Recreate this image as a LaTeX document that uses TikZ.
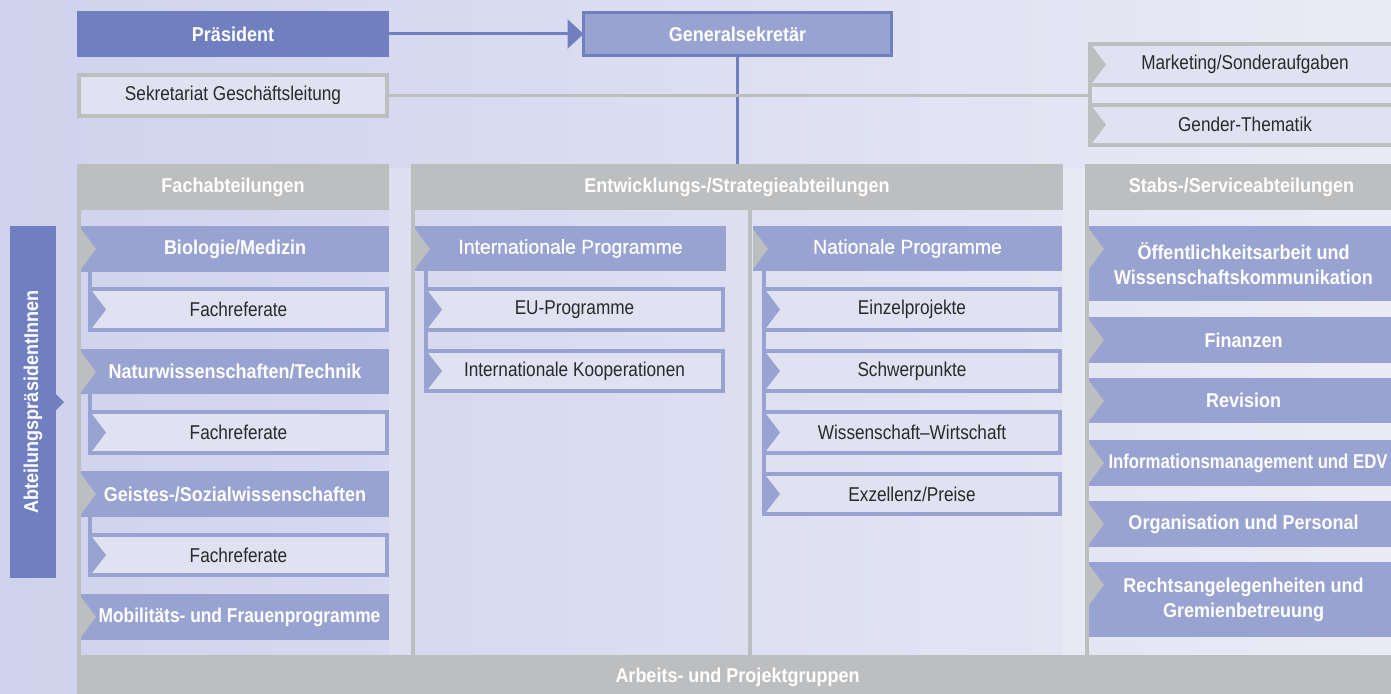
\documentclass[tikz,border=0pt]{standalone}
\usepackage{fontspec}
\usepackage{graphicx}
\setmainfont{Liberation Sans}[FakeStretch=0.86,BoldFeatures={FakeStretch=0.9}]
\newfontfamily\medf{Liberation Sans}[FakeStretch=0.97,FakeBold=0.6]
\usetikzlibrary{arrows.meta}
\definecolor{cA}{HTML}{6F7FC0}
\definecolor{cB}{HTML}{98A3D2}
\definecolor{cG}{HTML}{BDBEC0}
\definecolor{cL}{HTML}{E0E2F2}
\definecolor{cF}{HTML}{E4E6F4}
\definecolor{cT}{HTML}{2A2A2A}
\definecolor{bgL}{HTML}{CED2EC}
\definecolor{bgR}{HTML}{EAEBF6}
\newcommand\pbox[7]{\node[#1,minimum width={(#5)-(#3)},minimum height={(#6)-(#4)}] (#2) at ({((#3)+(#5))/2},{((#4)+(#6))/2}) {#7};}
\newcommand\gtri[2]{\fill[#2] ([yshift=-3pt]#1.north west) -- ([xshift=15pt,yshift=-23pt]#1.north west) -- ([yshift=-43pt]#1.north west) -- cycle;}
\newcommand\btri[2]{\fill[#2] ([xshift=2pt,yshift=-2pt]#1.north west) -- ([xshift=16pt]#1.west) -- ([xshift=2pt,yshift=2pt]#1.south west) -- cycle;}
\begin{document}
\begin{tikzpicture}[x=1pt,y=-1pt,
  every node/.style={outer sep=0pt,inner sep=0pt,align=center,font=\fontsize{20}{25}\selectfont},
  solA/.style={fill=cA,text=white,font=\fontsize{20}{25}\selectfont\bfseries},
  solB/.style={fill=cB,text=white,font=\fontsize{20}{25}\selectfont\bfseries},
  solM/.style={fill=cB,text=white,font=\fontsize{20}{25}\medf},
  gsbox/.style={fill=cB,draw=cA,line width=3pt,text=white,font=\fontsize{20}{25}\selectfont\bfseries},
  subbox/.style={fill=cL,draw=cB,line width=4pt,text=cT},
  graybox/.style={fill=cL,draw=cG,line width=4pt,text=cT},
  gframe/.style={fill=cF,draw=cG,line width=4pt},
  hdr/.style={fill=cG,text=white,font=\fontsize{20}{25}\selectfont\bfseries},
  aline/.style={draw=cA,line width=3pt},
  gline/.style={draw=cG,line width=3pt},
  bline/.style={draw=cB,line width=4pt},
  colline/.style={draw=cG,line width=4pt}]
\useasboundingbox (0,0) rectangle (1391,693);
\shade[left color=bgL,right color=bgR] (0,0) rectangle (1391,693);
% gap strips
\fill[white,opacity=.18] (389,168) rectangle (411,655);
\fill[white,opacity=.18] (1063,168) rectangle (1085,655);
% headers and bottom band
\pbox{hdr}{fach}{77}{164}{389}{210}{Fachabteilungen}
\pbox{hdr}{entw}{411}{164}{1063}{210}{Entwicklungs-/Strategieabteilungen}
\pbox{hdr}{stabs}{1085}{164}{1398}{210}{Stabs-/Serviceabteilungen}
\pbox{hdr}{arb}{77}{655}{1398}{700}{Arbeits- und Projektgruppen}
% column frames
\draw[colline] (79,210) -- (79,655);
\draw[colline] (413,210) -- (413,655);
\draw[colline] (750,210) -- (750,655);
\draw[colline] (1087,210) -- (1087,655);
% top
\pbox{solA}{pres}{77}{11}{389}{57}{Präsident}
\pbox{gsbox}{gs}{583.5}{12.5}{891.5}{55.5}{Generalsekretär}
\pbox{graybox}{sek}{79}{75}{387}{116}{Sekretariat Geschäftsleitung}
\pbox{gframe}{mg}{1090}{44}{1400}{145}{}
\pbox{graybox}{mkt}{1090}{44}{1400}{85}{Marketing/Sonderaufgaben}
\pbox{graybox}{gen}{1090}{104.5}{1400}{145}{Gender-Thematik}
\btri{mkt}{cG}
\btri{gen}{cG}
% left vertical
\pbox{solA}{abt}{10}{226}{56}{578}{\rotatebox{90}{AbteilungspräsidentInnen}}
\fill[cA] ([yshift=8pt]abt.east) -- ([xshift=8pt]abt.east) -- ([yshift=-8pt]abt.east) -- cycle;
% column 1
\pbox{solB}{bio}{81}{226}{389}{272}{Biologie/Medizin}
\pbox{subbox}{fr1}{90}{289}{387}{330}{Fachreferate}
\pbox{solB}{nat}{81}{349}{389}{394}{Naturwissenschaften/Technik}
\pbox{subbox}{fr2}{90}{412}{387}{453}{Fachreferate}
\pbox{solB}{geist}{81}{471}{389}{517}{Geistes-/Sozialwissenschaften}
\pbox{subbox}{fr3}{90}{535}{387}{575}{Fachreferate}
\pbox{solB}{mob}{81}{594}{389}{640}{\hspace*{9pt}\scalebox{0.965}[1]{Mobilitäts- und Frauenprogramme}}
% column 2
\pbox{solM}{intp}{415}{226}{726}{271}{Internationale Programme}
\pbox{subbox}{eu}{426}{289}{723}{330}{EU-Programme}
\pbox{subbox}{ik}{426}{351}{723}{391}{Internationale Kooperationen}
\pbox{solM}{natp}{753}{226}{1062}{271}{Nationale Programme}
\pbox{subbox}{ein}{764}{289}{1060}{330}{Einzelprojekte}
\pbox{subbox}{sch}{764}{351}{1060}{391}{Schwerpunkte}
\pbox{subbox}{ww}{764}{412}{1060}{453}{Wissenschaft–Wirtschaft}
\pbox{subbox}{exz}{764}{474}{1060}{514}{Exzellenz/Preise}
% column 3
\pbox{solB}{oeff}{1089}{226}{1398}{301}{Öffentlichkeitsarbeit und\\Wissenschaftskommunikation}
\pbox{solB}{fin}{1089}{317}{1398}{363}{Finanzen}
\pbox{solB}{rev}{1089}{378}{1398}{423}{Revision}
\pbox{solB}{info}{1089}{440}{1398}{486}{\hspace*{9pt}\scalebox{0.93}[1]{Informationsmanagement und EDV}}
\pbox{solB}{org}{1089}{501}{1398}{547}{Organisation und Personal}
\pbox{solB}{recht}{1089}{562}{1398}{637}{Rechtsangelegenheiten und\\Gremienbetreuung}
% connectors
\draw[aline,-{Triangle[length=16pt,width=29pt]}] (pres.east) -- (gs.west);
\draw[aline] (gs.south) -- (gs.south |- entw.north);
\draw[gline] (sek.east) -- (sek.east -| mg.west);
\draw[bline] (bio.south -| fr1.west) -- (fr1.north west);
\draw[bline] (nat.south -| fr2.west) -- (fr2.north west);
\draw[bline] (geist.south -| fr3.west) -- (fr3.north west);
\draw[bline] (intp.south -| eu.west) -- (ik.north west);
\draw[bline] (natp.south -| ein.west) -- (exz.north west);
% pointers
\foreach \n in {bio,nat,geist,mob,intp,natp,oeff,fin,rev,info,org,recht} {\gtri{\n}{cG}}
\foreach \n in {fr1,fr2,fr3,eu,ik,ein,sch,ww,exz} {\btri{\n}{cB}}
\end{tikzpicture}
\end{document}
